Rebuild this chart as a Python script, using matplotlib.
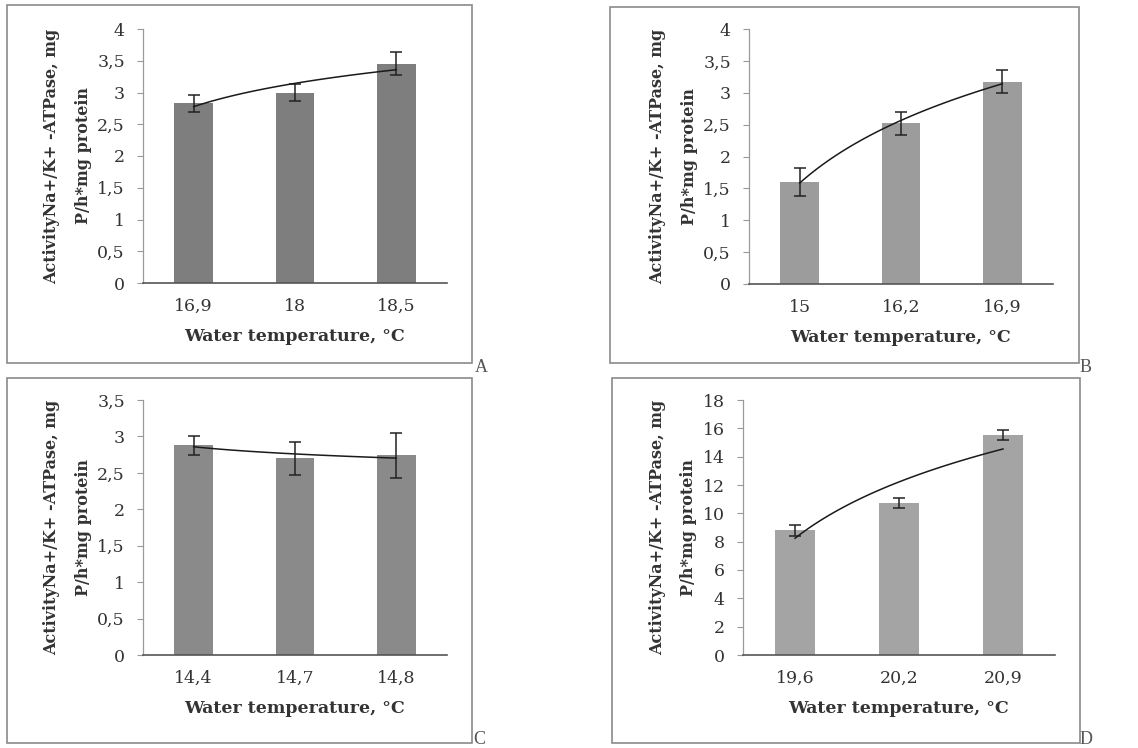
import matplotlib.pyplot as plt
import matplotlib.patches as patches
import numpy as np

# Panel data: water temperature categories, mean activity, error
temps_a = ['16,9', '18', '18,5']
vals_a = [2.83, 3.0, 3.45]
errs_a = [0.13, 0.13, 0.18]

temps_b = ['15', '16,2', '16,9']
vals_b = [1.6, 2.52, 3.17]
errs_b = [0.22, 0.18, 0.18]

temps_c = ['14,4', '14,7', '14,8']
vals_c = [2.88, 2.7, 2.74]
errs_c = [0.13, 0.23, 0.31]

temps_d = ['19,6', '20,2', '20,9']
vals_d = [8.8, 10.7, 15.5]
errs_d = [0.4, 0.35, 0.35]

plt.rcParams['font.family'] = ['DejaVu Serif']

W, H = 1138, 748
fig = plt.figure(figsize=(W / 100, H / 100), dpi=100)


def px_rect(x0, y0, x1, y1):
    return (x0 / W, 1 - y1 / H, (x1 - x0) / W, (y1 - y0) / H)


def comma(v, _=None):
    return f'{v:g}'.replace('.', ',')


def panel(axpos, box, letter, letter_xy, temps, vals, errs, ylim, ystep, color):
    fig.patches.append(patches.Rectangle(box[:2], box[2], box[3], transform=fig.transFigure,
                                         fill=False, edgecolor='#8a8a8a', linewidth=1.2))
    fig.text(letter_xy[0] / W, 1 - letter_xy[1] / H, letter, fontsize=13, color='#555555',
             ha='left', va='center', family='Liberation Serif')
    ax = fig.add_axes(axpos)
    x = np.arange(len(vals))
    ax.bar(x, vals, width=0.38, color=color, edgecolor='none', zorder=2)
    ax.errorbar(x, vals, yerr=errs, fmt='none', ecolor='#222222', elinewidth=1.1,
                capsize=4, capthick=1.1, zorder=3)
    # logarithmic trendline fitted to the means
    lx = np.log(x + 1)
    a, b = np.polyfit(lx, vals, 1)
    xs = np.linspace(0, len(vals) - 1, 100)
    ax.plot(xs, a * np.log(xs + 1) + b, color='#1a1a1a', linewidth=1.1, zorder=4)

    ax.set_xlim(-0.5, len(vals) - 0.5)
    ax.set_ylim(*ylim)
    ax.set_yticks(np.arange(ylim[0], ylim[1] + ystep / 2, ystep))
    ax.yaxis.set_major_formatter(plt.FuncFormatter(comma))
    ax.set_xticks(x)
    ax.set_xticklabels(temps)
    ax.tick_params(axis='x', length=0, pad=11, labelsize=12.5, labelcolor='#333333')
    ax.tick_params(axis='y', length=4, width=0.8, color='#999999', pad=9,
                   labelsize=12.5, labelcolor='#333333')
    for s in ['top', 'right']:
        ax.spines[s].set_visible(False)
    ax.spines['left'].set_color('#9a9a9a')
    ax.spines['left'].set_linewidth(0.9)
    ax.spines['bottom'].set_color('#555555')
    ax.spines['bottom'].set_linewidth(1.2)
    ax.set_xlabel('Water temperature, °C', fontsize=12.5, fontweight='bold', color='#333333',
                  labelpad=9)
    ax.set_ylabel('ActivityNa+/K+ -ATPase, mg\nP/h*mg protein', fontsize=11.5,
                  fontweight='bold', color='#333333', labelpad=4, linespacing=2.1)
    return ax


panel((143 / W, 1 - 283 / H, 304 / W, 254 / H), px_rect(7, 5, 472, 363), 'A', (475, 367),
      temps_a, vals_a, errs_a, (0, 4), 0.5, '#7e7e7e')
panel((749 / W, 1 - 284 / H, 304 / W, 255 / H), px_rect(610, 7, 1079, 363), 'B', (1080, 367),
      temps_b, vals_b, errs_b, (0, 4), 0.5, '#9c9c9c')
panel((143 / W, 1 - 655 / H, 304 / W, 255 / H), px_rect(7, 378, 472, 743), 'C', (473, 740),
      temps_c, vals_c, errs_c, (0, 3.5), 0.5, '#8a8a8a')
panel((743 / W, 1 - 655 / H, 312 / W, 255 / H), px_rect(612, 378, 1080, 743), 'D', (1080, 740),
      temps_d, vals_d, errs_d, (0, 18), 2, '#a4a4a4')

fig.savefig('out.png', dpi=100)
